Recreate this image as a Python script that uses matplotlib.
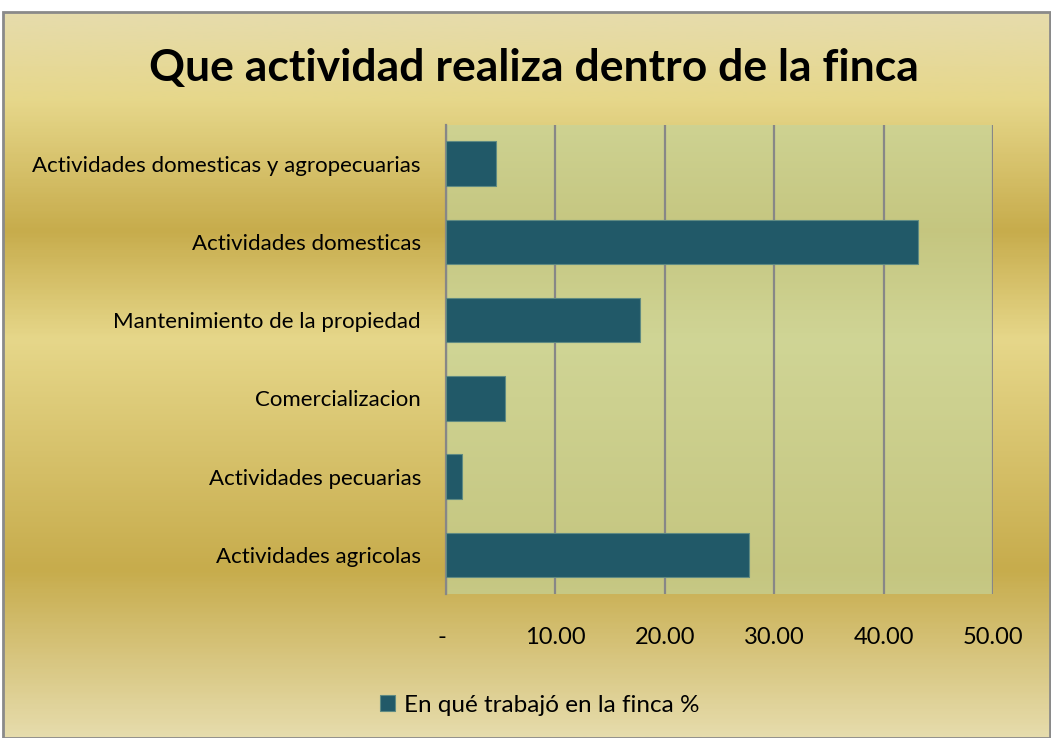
import numpy as np
import matplotlib
matplotlib.use('Agg')
import matplotlib.pyplot as plt
from matplotlib.colors import LinearSegmentedColormap
from matplotlib.patches import Rectangle

# data, bottom to top as in the chart
categorias = ['Actividades agricolas', 'Actividades pecuarias', 'Comercializacion',
              'Mantenimiento de la propiedad', 'Actividades domesticas',
              'Actividades domesticas y agropecuarias']
porcentajes = [27.7, 1.5, 5.4, 17.7, 43.1, 4.6]
xticks = [0, 10, 20, 30, 40, 50]
xtick_labels = ['-', '10.00', '20.00', '30.00', '40.00', '50.00']
titulo = 'Que actividad realiza dentro de la finca'
serie = 'En qué trabajó en la finca %'

plt.rcParams['font.family'] = ['Lato', 'DejaVu Sans']

W, H = 1051, 738
fig = plt.figure(figsize=(W / 100, H / 100), dpi=100)
fig.patch.set_facecolor('white')

# gold gradient background (excel "gold" preset look)
gold = LinearSegmentedColormap.from_list('gold', [
    (0.00, '#e6dcac'), (0.12, '#e6d78a'), (0.30, '#c7ac4c'),
    (0.45, '#e6d78a'), (0.77, '#c7ac4c'), (1.00, '#e6dcac')])
bg = fig.add_axes([3 / W, 0, (W - 4) / W, (H - 12) / H])
bg.imshow(np.linspace(0, 1, 400).reshape(-1, 1), cmap=gold, aspect='auto',
          extent=[0, 1, 0, 1], origin='upper')
bg.set_xlim(0, 1)
bg.set_ylim(0, 1)
bg.axis('off')
fig.patches.append(Rectangle((3 / W, 0), (W - 4) / W, (H - 12) / H,
                             transform=fig.transFigure, fill=False,
                             edgecolor='#8a8a8a', lw=2, zorder=10))

ax = fig.add_axes([446 / W, 1 - 594 / H, (993 - 446) / W, (594 - 124.5) / H])
ax.set_facecolor((0.77, 0.83, 0.61, 0.65))
ax.barh(categorias, porcentajes, height=0.57, color='#215968',
        edgecolor='#5f8a82', linewidth=0.8, zorder=3, label=serie)
ax.set_xlim(0, 50)
ax.set_ylim(-0.5, len(categorias) - 0.5)
ax.set_xticks(xticks)
ax.set_xticklabels(xtick_labels)
ax.grid(axis='x', color='#878787', lw=1.6, zorder=1)
ax.set_axisbelow(True)
for s in ['top', 'right', 'bottom']:
    ax.spines[s].set_visible(False)
ax.spines['left'].set_color('#878787')
ax.spines['left'].set_linewidth(1.6)
ax.tick_params(axis='both', length=0, colors='black')
ax.tick_params(axis='y', pad=18, labelsize=16)
ax.tick_params(axis='x', pad=24, labelsize=17)
# excel accounting format puts the zero dash a little left of the tick
ax.get_xticklabels()[0].set_horizontalalignment('right')

fig.text(534 / W, 1 - 68 / H, titulo, ha='center', va='center',
         fontsize=32, fontweight='bold')

ax.legend(loc='center', bbox_to_anchor=(540 / W, 1 - 705 / H),
          bbox_transform=fig.transFigure, frameon=False, fontsize=17.5,
          handlelength=0.6, handleheight=0.6, handletextpad=0.4)

fig.savefig('out.png', dpi=100, facecolor=fig.get_facecolor())
